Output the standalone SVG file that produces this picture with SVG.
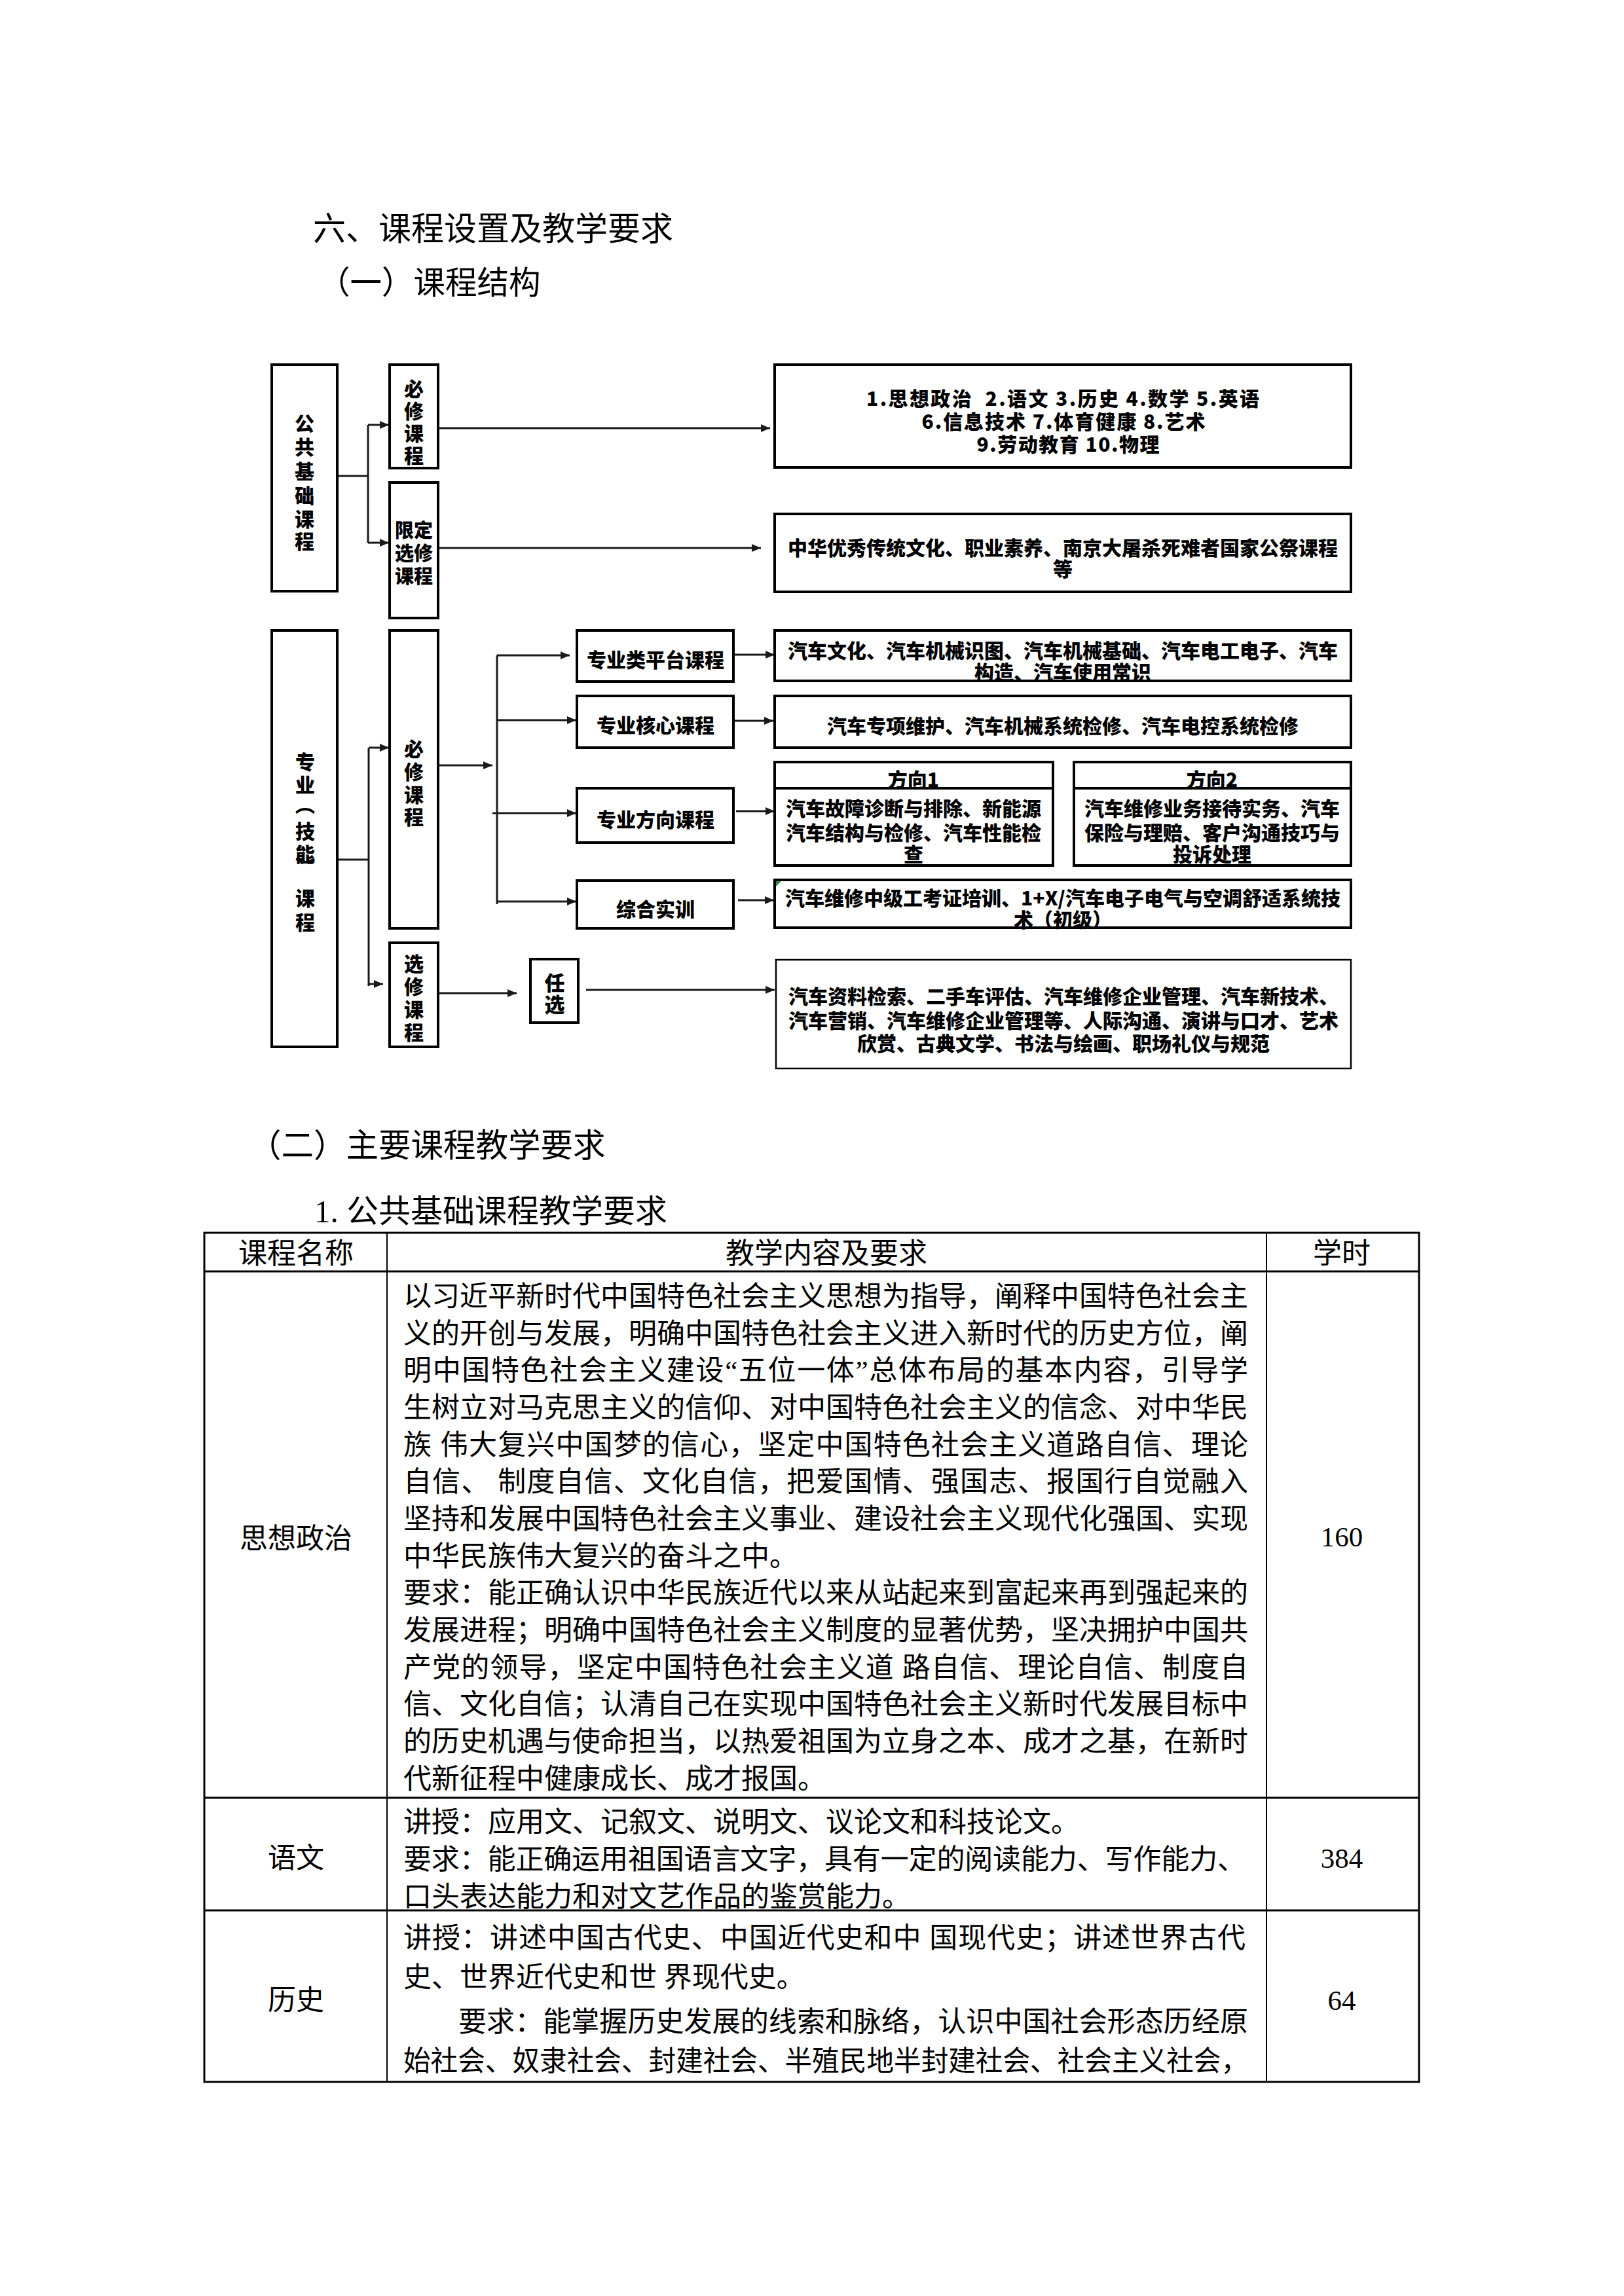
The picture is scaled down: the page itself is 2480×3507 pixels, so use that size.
<svg xmlns="http://www.w3.org/2000/svg" width="2480" height="3507" viewBox="0 0 2480 3507">
<style>
.box{fill:#fff;stroke:#000;stroke-width:4}
.thin{stroke-width:2.5}
.d{font-family:"Noto Sans CJK SC","Noto Sans CJK JP",sans-serif;font-weight:900;font-size:30px;fill:#000;text-anchor:middle;dominant-baseline:central}
.h{font-family:"Liberation Serif","Noto Sans CJK SC",serif;font-size:50px;fill:#000;dominant-baseline:central}
.t{font-family:"Liberation Serif","Noto Sans CJK SC",serif;font-size:43px;fill:#000;dominant-baseline:central}
.c{text-anchor:middle}
.conn{stroke:#1a1a1a;stroke-width:3;fill:none}
.ar{marker-end:url(#ah)}
.tl{stroke:#000;stroke-width:3;fill:none}
.tv{stroke:#000;stroke-width:2;fill:none}
</style>
<defs>
<marker id="ah" viewBox="0 0 14 12" refX="14" refY="6" markerWidth="14" markerHeight="12" markerUnits="userSpaceOnUse" orient="auto">
<path d="M0,0 L14,6 L0,12 z" fill="#1a1a1a"/>
</marker>
</defs>
<rect width="2480" height="3507" fill="#fff"/>

<g id="headings">
<text class="h" x="478" y="350">六、课程设置及教学要求</text>
<text class="h" x="486" y="432" style="font-size:48.5px">（一）课程结构</text>
<text class="h" x="380" y="1750" style="font-size:49.5px">（二）主要课程教学要求</text>
<text class="h" x="480" y="1850" style="font-size:49px">1. 公共基础课程教学要求</text>
</g>

<g id="connectors">
<path class="conn" d="M515,727 H562 M562,649 V829"/>
<line class="conn ar" x1="562" y1="649" x2="594" y2="649"/>
<line class="conn ar" x1="562" y1="829" x2="594" y2="829"/>
<line class="conn ar" x1="671" y1="654" x2="1176" y2="654"/>
<line class="conn ar" x1="671" y1="837" x2="1162" y2="837"/>
<path class="conn" d="M515,1313 H563 M563,1142 V1506"/>
<line class="conn ar" x1="563" y1="1142" x2="594" y2="1142"/>
<line class="conn ar" x1="563" y1="1503" x2="585" y2="1503"/>
<line class="conn ar" x1="671" y1="1169" x2="752" y2="1169"/>
<path class="conn" d="M759,1001 V1381"/>
<line class="conn ar" x1="759" y1="1001" x2="870" y2="1001"/>
<line class="conn ar" x1="759" y1="1100" x2="880" y2="1100"/>
<line class="conn ar" x1="752" y1="1242" x2="880" y2="1242"/>
<line class="conn ar" x1="759" y1="1377" x2="880" y2="1377"/>
<line class="conn ar" x1="671" y1="1517" x2="789" y2="1517"/>
<line class="conn ar" x1="895" y1="1512" x2="1183" y2="1512"/>
<line class="conn ar" x1="1122" y1="1000" x2="1183" y2="1000"/>
<line class="conn ar" x1="1122" y1="1101" x2="1181" y2="1101"/>
<line class="conn ar" x1="1124" y1="1239" x2="1183" y2="1239"/>
<line class="conn ar" x1="1127" y1="1375" x2="1182" y2="1375"/>
</g>

<g id="n-gonggong">
<rect class="box" x="415" y="557" width="100" height="346"/>
<text class="d"><tspan x="465" y="645">公</tspan><tspan x="465" y="681">共</tspan><tspan x="465" y="718">基</tspan><tspan x="465" y="755">础</tspan><tspan x="465" y="791">课</tspan><tspan x="465" y="825">程</tspan></text>
</g>
<g id="n-bixiu1">
<rect class="box" x="595" y="557" width="74" height="158"/>
<text class="d"><tspan x="632" y="592">必</tspan><tspan x="632" y="626">修</tspan><tspan x="632" y="660">课</tspan><tspan x="632" y="694">程</tspan></text>
</g>
<g id="n-xianding">
<rect class="box" x="595" y="737" width="74" height="207"/>
<text class="d" style="font-size:29px"><tspan x="632" y="808">限定</tspan><tspan x="632" y="843">选修</tspan><tspan x="632" y="878">课程</tspan></text>
</g>
<g id="n-public-req">
<rect class="box" x="1183" y="557" width="880" height="157"/>
<text class="d" x="1623" y="607" textLength="600" lengthAdjust="spacing" xml:space="preserve">1.思想政治  2.语文 3.历史 4.数学 5.英语</text>
<text class="d" x="1624" y="642" textLength="433" lengthAdjust="spacing">6.信息技术 7.体育健康 8.艺术</text>
<text class="d" x="1631" y="677" textLength="279" lengthAdjust="spacing">9.劳动教育 10.物理</text>
</g>
<g id="n-public-lim">
<rect class="box" x="1183" y="785" width="880" height="119"/>
<text class="d"><tspan x="1623" y="835">中华优秀传统文化、职业素养、南京大屠杀死难者国家公祭课程</tspan><tspan x="1623" y="867">等</tspan></text>
</g>

<g id="n-zhuanye">
<rect class="box" x="415" y="963" width="100" height="636"/>
<text class="d"><tspan x="466" y="1162">专</tspan><tspan x="466" y="1197">业</tspan><tspan x="466" y="1227">︵</tspan><tspan x="466" y="1268">技</tspan><tspan x="466" y="1303">能</tspan><tspan x="466" y="1322">︶</tspan><tspan x="466" y="1370">课</tspan><tspan x="466" y="1407">程</tspan></text>
</g>
<g id="n-bixiu2">
<rect class="box" x="595" y="963" width="74" height="455"/>
<text class="d"><tspan x="632" y="1142">必</tspan><tspan x="632" y="1177">修</tspan><tspan x="632" y="1212">课</tspan><tspan x="632" y="1246">程</tspan></text>
</g>
<g id="n-xuanxiu">
<rect class="box" x="595" y="1440" width="74" height="159"/>
<text class="d"><tspan x="632" y="1470">选</tspan><tspan x="632" y="1505">修</tspan><tspan x="632" y="1540">课</tspan><tspan x="632" y="1575">程</tspan></text>
</g>
<g id="n-pingtai">
<rect class="box" x="881" y="963" width="239" height="78"/>
<text class="d" x="1001" y="1006">专业类平台课程</text>
</g>
<g id="n-hexin">
<rect class="box" x="881" y="1063" width="239" height="79"/>
<text class="d" x="1001" y="1106">专业核心课程</text>
</g>
<g id="n-fangxiang">
<rect class="box" x="881" y="1204" width="239" height="83"/>
<text class="d" x="1001" y="1250">专业方向课程</text>
</g>
<g id="n-zonghe">
<rect class="box" x="881" y="1345" width="239" height="73"/>
<text class="d" x="1001" y="1387">综合实训</text>
</g>
<g id="n-renxuan">
<rect class="box" x="810" y="1465" width="73" height="97"/>
<text class="d" style="font-size:31px"><tspan x="847" y="1499">任</tspan><tspan x="847" y="1532">选</tspan></text>
</g>
<g id="n-pingtai-c">
<rect class="box" x="1183" y="963" width="880" height="77"/>
<text class="d"><tspan x="1623" y="992">汽车文化、汽车机械识图、汽车机械基础、汽车电工电子、汽车</tspan><tspan x="1623" y="1025">构造、汽车使用常识</tspan></text>
</g>
<g id="n-hexin-c">
<rect class="box" x="1183" y="1063" width="880" height="79"/>
<text class="d" x="1623" y="1107">汽车专项维护、汽车机械系统检修、汽车电控系统检修</text>
</g>
<g id="n-fx1">
<rect class="box" x="1183" y="1164" width="425" height="158"/>
<line x1="1183" y1="1204" x2="1608" y2="1204" stroke="#000" stroke-width="4"/>
<text class="d"><tspan x="1395" y="1189">方向1</tspan><tspan x="1395" y="1233">汽车故障诊断与排除、新能源</tspan><tspan x="1395" y="1270">汽车结构与检修、汽车性能检</tspan><tspan x="1395" y="1303">查</tspan></text>
</g>
<g id="n-fx2">
<rect class="box" x="1640" y="1164" width="423" height="158"/>
<line x1="1640" y1="1204" x2="2063" y2="1204" stroke="#000" stroke-width="4"/>
<text class="d"><tspan x="1851" y="1189">方向2</tspan><tspan x="1851" y="1233">汽车维修业务接待实务、汽车</tspan><tspan x="1851" y="1270">保险与理赔、客户沟通技巧与</tspan><tspan x="1851" y="1303">投诉处理</tspan></text>
</g>
<g id="n-zonghe-c">
<rect class="box" x="1183" y="1344" width="880" height="73"/>
<path d="M1185,1346 L1193,1346 L1185,1354 z" fill="#2e8b3e"/>
<text class="d"><tspan x="1623" y="1370">汽车维修中级工考证培训、1+X/汽车电子电气与空调舒适系统技</tspan><tspan x="1623" y="1403">术（初级）</tspan></text>
</g>
<g id="n-renxuan-c">
<rect class="box thin" x="1185" y="1466" width="878" height="166"/>
<text class="d"><tspan x="1624" y="1520">汽车资料检索、二手车评估、汽车维修企业管理、汽车新技术、</tspan><tspan x="1624" y="1557">汽车营销、汽车维修企业管理等、人际沟通、演讲与口才、艺术</tspan><tspan x="1624" y="1592">欣赏、古典文学、书法与绘画、职场礼仪与规范</tspan></text>
</g>

<g id="table">
<rect x="312" y="1883" width="1855" height="1297" fill="none" stroke="#000" stroke-width="3"/>
<line class="tl" x1="312" y1="1942" x2="2167" y2="1942"/>
<line class="tl" x1="312" y1="2746" x2="2167" y2="2746"/>
<line class="tl" x1="312" y1="2918" x2="2167" y2="2918"/>
<line class="tv" x1="591" y1="1883" x2="591" y2="3180"/>
<line class="tv" x1="1934" y1="1883" x2="1934" y2="3180"/>
<text class="t c" x="452" y="1915" style="font-size:44px">课程名称</text>
<text class="t c" x="1262" y="1915" style="font-size:44px">教学内容及要求</text>
<text class="t c" x="2049" y="1915" style="font-size:44px">学时</text>

<text class="t c" x="452" y="2350">思想政治</text>
<text class="t c" x="2049" y="2347">160</text>
<text class="t" x="616" y="1980" textLength="1290" lengthAdjust="spacing">以习近平新时代中国特色社会主义思想为指导，阐释中国特色社会主</text>
<text class="t" x="616" y="2037" textLength="1290" lengthAdjust="spacing">义的开创与发展，明确中国特色社会主义进入新时代的历史方位，阐</text>
<text class="t" x="616" y="2093" textLength="1290" lengthAdjust="spacing">明中国特色社会主义建设“五位一体”总体布局的基本内容，引导学</text>
<text class="t" x="616" y="2150" textLength="1290" lengthAdjust="spacing">生树立对马克思主义的信仰、对中国特色社会主义的信念、对中华民</text>
<text class="t" x="616" y="2207" textLength="1290" lengthAdjust="spacing" xml:space="preserve">族 伟大复兴中国梦的信心，坚定中国特色社会主义道路自信、理论</text>
<text class="t" x="616" y="2263" textLength="1290" lengthAdjust="spacing" xml:space="preserve">自信、 制度自信、文化自信，把爱国情、强国志、报国行自觉融入</text>
<text class="t" x="616" y="2320" textLength="1290" lengthAdjust="spacing">坚持和发展中国特色社会主义事业、建设社会主义现代化强国、实现</text>
<text class="t" x="616" y="2377">中华民族伟大复兴的奋斗之中。</text>
<text class="t" x="616" y="2433" textLength="1290" lengthAdjust="spacing">要求：能正确认识中华民族近代以来从站起来到富起来再到强起来的</text>
<text class="t" x="616" y="2490" textLength="1290" lengthAdjust="spacing">发展进程；明确中国特色社会主义制度的显著优势，坚决拥护中国共</text>
<text class="t" x="616" y="2547" textLength="1290" lengthAdjust="spacing" xml:space="preserve">产党的领导，坚定中国特色社会主义道 路自信、理论自信、制度自</text>
<text class="t" x="616" y="2603" textLength="1290" lengthAdjust="spacing">信、文化自信；认清自己在实现中国特色社会主义新时代发展目标中</text>
<text class="t" x="616" y="2660" textLength="1290" lengthAdjust="spacing">的历史机遇与使命担当，以热爱祖国为立身之本、成才之基，在新时</text>
<text class="t" x="616" y="2717">代新征程中健康成长、成才报国。</text>

<text class="t c" x="452" y="2838">语文</text>
<text class="t c" x="2049" y="2838">384</text>
<text class="t" x="616" y="2783">讲授：应用文、记叙文、说明文、议论文和科技论文。</text>
<text class="t" x="616" y="2840" textLength="1286" lengthAdjust="spacing">要求：能正确运用祖国语言文字，具有一定的阅读能力、写作能力、</text>
<text class="t" x="616" y="2897">口头表达能力和对文艺作品的鉴赏能力。</text>

<text class="t c" x="452" y="3055">历史</text>
<text class="t c" x="2049" y="3055">64</text>
<text class="t" x="616" y="2960" textLength="1286" lengthAdjust="spacing" xml:space="preserve">讲授：讲述中国古代史、中国近代史和中 国现代史；讲述世界古代</text>
<text class="t" x="616" y="3020" xml:space="preserve">史、世界近代史和世 界现代史。</text>
<text class="t" x="700" y="3088" textLength="1206" lengthAdjust="spacing">要求：能掌握历史发展的线索和脉络，认识中国社会形态历经原</text>
<text class="t" x="616" y="3148" textLength="1290" lengthAdjust="spacingAndGlyphs">始社会、奴隶社会、封建社会、半殖民地半封建社会、社会主义社会，</text>
</g>
</svg>
